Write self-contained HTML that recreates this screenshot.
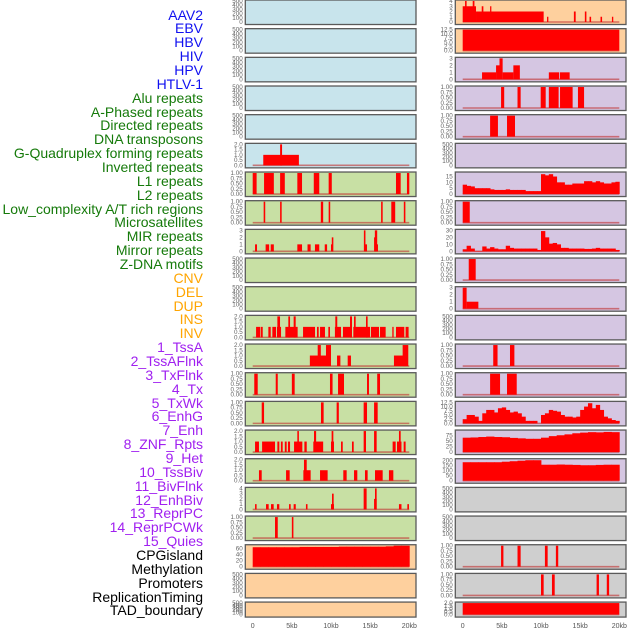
<!DOCTYPE html>
<html><head><meta charset="utf-8">
<style>
html,body{margin:0;padding:0;background:#fff;}
#wrap{position:relative;width:630px;height:630px;overflow:hidden;}
.lab{position:absolute;right:427px;font-family:"Liberation Sans",sans-serif;font-size:14px;line-height:14px;white-space:nowrap;}
svg{position:absolute;left:0;top:0;}
</style></head>
<body>
<div id="wrap">
<div id="labels"></div>
<svg id="chart" width="630" height="630"></svg>
</div>
<script>
// ---------- data ----------
const trackNames = ["AAV2","EBV","HBV","HIV","HPV","HTLV-1","Alu repeats","A-Phased repeats","Directed repeats","DNA transposons","G-Quadruplex forming repeats","Inverted repeats","L1 repeats","L2 repeats","Low_complexity A/T rich regions","Microsatellites","MIR repeats","Mirror repeats","Z-DNA motifs","CNV","DEL","DUP","INS","INV","1_TssA","2_TssAFlnk","3_TxFlnk","4_Tx","5_TxWk","6_EnhG","7_Enh","8_ZNF_Rpts","9_Het","10_TssBiv","11_BivFlnk","12_EnhBiv","13_ReprPC","14_ReprPCWk","15_Quies","CPGisland","Methylation","Promoters","ReplicationTiming","TAD_boundary"];
const trackGroups = [6,13,5,15,5];
const groupColors = ["#1010f0","#157a0a","#ffa500","#a020f0","#000000"];
const xTickValues = [0,5,10,15,20];
const xTickLabels = ["0","5kb","10kb","15kb","20kb"];

const T500=["0","100","200","300","400","500"], T1=["0.00","0.25","0.50","0.75","1.00"], T2=["0.0","0.5","1.0","1.5","2.0"], T3=["0","1","2","3"], T4=["0","1","2","3","4"], T12=["0.0","2.5","5.0","7.5","10.0","12.5"];

// segments: [startKb, endKb, value]
const segL5=[[1.35,5.9,1],[3.5,3.75,2]];
const segL6=[[0,0.5,1],[1.45,2.7,1],[3.5,4.1,1],[5.7,6.3,1],[7.8,8.5,1],[9.7,10.1,1],[18.3,18.9,1],[19.7,20,1]];
const segL7=[[1.4,1.6,1],[3.5,3.7,1],[8.7,9.0,1],[9.7,9.9,1],[16.4,16.6,1],[17.7,18.2,1],[19.3,19.5,1]];
const segL8=[[0.3,0.55,1],[1.65,2.1,1],[2.3,2.7,1],[5.7,6.3,1],[7.0,7.4,1],[7.95,8.5,1],[9.2,9.5,1],[10.0,10.25,1],[10.1,10.3,2],[14.2,14.4,3],[14.35,14.6,1],[15.5,15.75,2],[15.6,15.9,3],[15.8,16.0,1]];
const segL11=[[0.43,0.98,1],[1.06,1.28,1],[2.0,2.3,1],[2.51,2.98,1],[3.1,3.62,1],[3.15,3.49,2],[4.17,5.74,1],[4.55,4.77,2],[5.23,5.49,2],[6.43,7.96,1],[8.21,8.43,1],[8.6,9.23,1],[9.66,9.87,1],[10.5,11.28,1],[10.55,10.8,2],[11.53,12.64,1],[12.43,12.68,2],[12.85,14.98,1],[12.94,13.15,2],[14.47,14.68,2],[15.1,16.13,1],[16.26,16.98,1],[17.83,18.0,1],[18.3,19.36,1],[19.53,19.91,1]];
const segL12=[[7.3,10.0,1],[8.3,8.7,2],[9.36,10.0,2],[10.77,11.2,1],[12.13,12.55,1],[18.04,19.66,1],[19.15,19.87,2]];
const segL13=[[0.2,0.64,1],[2.94,3.2,1],[5.0,5.36,1],[9.87,10.2,1],[10.9,11.66,1],[14.6,14.85,1],[15.9,16.26,1]];
const segL14=[[1.15,1.45,1],[8.72,9.06,1],[10.72,11.0,1],[14.17,14.6,1],[15.5,15.96,1]];
const segL15=[[0.3,0.8,1],[1.2,2.85,1],[3.15,3.4,1],[3.6,3.83,1],[4.1,4.34,1],[4.5,4.77,1],[5.28,6.34,1],[5.7,5.9,2],[6.6,6.9,1],[7.74,9.0,1],[7.83,8.1,2],[10.0,10.38,1],[10.08,10.3,2],[11.28,11.5,1],[12.68,12.9,1],[14.17,14.47,2],[15.5,15.83,2],[17.87,18.26,1],[18.43,19.0,1],[18.68,18.9,2],[19.28,19.53,1]];
const segL16=[[0.8,1.15,1],[4.26,4.72,1],[6.47,7.4,1],[6.55,6.9,2],[8.6,9.57,1],[11.57,12.0,1],[12.94,13.36,1],[14.34,14.68,1],[15.62,16.6,1],[17.4,17.96,1]];
const segL17=[[0.3,0.5,1],[1.7,2.04,1],[2.34,2.68,1],[3.1,3.4,1],[4.64,4.85,1],[5.23,5.5,1],[6.8,7.0,1],[10.0,10.38,1],[10.13,10.34,3],[14.17,14.55,4],[15.5,15.83,2],[15.62,15.83,4],[18.68,19.0,1],[19.75,19.96,1]];
const segL18=[[2.85,3.2,1],[5.0,5.2,1]];
const binsL19=[65,65,65,65,65,65,66,66,66,66,66,67,67,67,67,67,67,68,70,70];

const segR0=[[0,1.7,3],[0.3,0.5,4],[1.28,1.5,4],[1.7,10.3,2],[2.43,2.64,3],[3.5,3.66,3],[10.1,10.34,2],[10.77,10.94,1],[14.2,14.43,2],[15.6,15.8,2],[16.2,16.4,1],[17.6,17.8,1],[19.06,19.23,1]];
const segR1=[[0,20,12.5]];
const segR2=[[2.47,4.26,1],[4.26,4.7,2],[4.7,5.1,3],[5.1,6.47,1],[6.47,7.3,2],[11.0,12.3,1],[12.4,13.66,1]];
const segR3=[[4.9,5.3,1],[7.0,7.4,1],[9.96,10.6,1],[11.0,12.25,1],[12.43,14.04,1],[14.72,15.5,1]];
const segR4=[[3.5,4.5,1],[5.66,6.68,1]];
const binsR6=[8,7,6.5,5,5,5,5,4,3.5,3.5,3.5,4,3.5,3.5,3.5,3.5,2.5,2.5,2.5,2.5,17,16,17,15,10,10,8,8,9,9,9,11,11,10,11,10,9,9,10,10.5];
const segR7=[[0,0.9,1]];
const binsR8=[3,8,4,0.5,0.5,7,4,6,4,3,3,8,5,4,4,4,4,4,4,2,29,20,11,12,10,5,5,4,4,4,4,3.5,3.5,4,5,4,4,4,4,2];
const segR9=[[0.77,1.66,1]];
const segR10=[[0,0.5,3],[0.5,2.0,1]];
const segR12=[[3.9,4.45,1],[6.04,6.6,1]];
const segR13=[[3.5,4.77,1],[5.66,6.9,1]];
const binsR14=[2.5,5,5,4,1.5,6,8,8,6.5,9,9.5,8,6.5,7,6,4,1.5,1.5,1.5,0,5,6,8,7.5,7,5,4,4,3.5,4,8,10,12,9,11,8,4,3,2,1.5];
const binsR15=[65,66,68,70,68,67,64,62,60,60,65,72,76,80,85,88,90,89,91,90];
const binsR16=[185,185,185,185,185,190,195,200,205,205,160,160,162,160,158,155,155,158,160,160];
const segR19=[[4.9,5.2,1],[7.0,7.4,1],[10.5,10.85,1],[11.9,12.2,1]];
const segR20=[[10.0,10.34,1],[11.4,11.75,1],[17.1,17.4,1],[18.4,18.7,1]];
const segR21=[[0,20,2]];

const BLUE="#c8e4ec",GREEN="#c8e0a4",ORANGE="#fed09e",PURPLE="#d5c6e2",GRAY="#cfcfcf";
const leftPanels=[
 {bg:BLUE,t:T500},{bg:BLUE,t:T500},{bg:BLUE,t:T500},{bg:BLUE,t:T500},{bg:BLUE,t:T500},
 {bg:BLUE,t:T2,ym:2,s:segL5},
 {bg:GREEN,t:T1,ym:1,s:segL6},{bg:GREEN,t:T1,ym:1,s:segL7},{bg:GREEN,t:T3,ym:3,s:segL8},
 {bg:GREEN,t:T500},{bg:GREEN,t:T500},
 {bg:GREEN,t:T2,ym:2,s:segL11},{bg:GREEN,t:T2,ym:2,s:segL12},{bg:GREEN,t:T1,ym:1,s:segL13},{bg:GREEN,t:T1,ym:1,s:segL14},
 {bg:GREEN,t:T2,ym:2,s:segL15},{bg:GREEN,t:T2,ym:2,s:segL16},{bg:GREEN,t:T4,ym:4,s:segL17},{bg:GREEN,t:T1,ym:1,s:segL18},
 {bg:ORANGE,t:["0","20","40","60"],tv:[0,20,40,60],ym:70,b:binsL19,bw:1},
 {bg:ORANGE,t:T500},{bg:ORANGE,t:T500}
];
const rightPanels=[
 {bg:ORANGE,t:T4,ym:4,s:segR0},{bg:ORANGE,t:T12,ym:12.5,s:segR1},
 {bg:PURPLE,t:T3,ym:3,s:segR2},{bg:PURPLE,t:T1,ym:1,s:segR3},{bg:PURPLE,t:T1,ym:1,s:segR4},{bg:PURPLE,t:T500},
 {bg:PURPLE,t:["0","5","10","15"],tv:[0,5,10,15],ym:18,b:binsR6,bw:0.5},
 {bg:PURPLE,t:T1,ym:1,s:segR7},
 {bg:PURPLE,t:["0","10","20","30"],tv:[0,10,20,30],ym:30,b:binsR8,bw:0.5},
 {bg:PURPLE,t:T1,ym:1,s:segR9},{bg:PURPLE,t:T3,ym:3,s:segR10},{bg:PURPLE,t:T500},
 {bg:PURPLE,t:T1,ym:1,s:segR12},{bg:PURPLE,t:T1,ym:1,s:segR13},
 {bg:PURPLE,t:T12,ym:12.5,b:binsR14,bw:0.5},
 {bg:PURPLE,t:["0","25","50","75"],tv:[0,25,50,75],ym:95,b:binsR15,bw:1},
 {bg:PURPLE,t:["0","50","100","150","200"],tv:[0,50,100,150,200],ym:210,b:binsR16,bw:1},
 {bg:GRAY,t:T500},{bg:GRAY,t:T500},
 {bg:GRAY,t:T1,ym:1,s:segR19},{bg:GRAY,t:T1,ym:1,s:segR20},{bg:GRAY,t:T2,ym:2,s:segR21}
];

// ---------- drawing ----------
const NS="http://www.w3.org/2000/svg";
const svg=document.getElementById("chart");
const PXKB=7.83;
function xScale(col,kb){return (col?462.7:252.7)+kb*PXKB;}
function rowTop(i){return 28.67*i;}
function rowH(i){return i===21?15:24.5;}
function yScale(v,ym,i){const b=rowTop(i)+rowH(i)-2.5, t=rowTop(i)+1;return b-(v/ym)*(b-t);}
function mk(tag,attrs,parent){const e=document.createElementNS(NS,tag);for(const k in attrs)e.setAttribute(k,attrs[k]);(parent||svg).appendChild(e);return e;}

// labels
const labDiv=document.getElementById("labels");
let gi=0,cnt=0;
trackNames.forEach((n,i)=>{
  while(cnt>=trackGroups[gi]){gi++;cnt=0;}
  cnt++;
  const d=document.createElement("div");
  d.className="lab";
  d.style.top=(15+13.86*i-7.5)+"px";
  d.style.color=groupColors[gi];
  d.textContent=n;
  
  
  labDiv.appendChild(d);
});

function drawPanel(p,i,col){
  const px=col?455.3:245.3, w=170.7, top=rowTop(i), h=rowH(i);
  const g=mk("g",{});
  
  
  const bg=mk("rect",{x:px,y:top,width:w,height:h,fill:p.bg},g);
  
  
  const ym=p.ym||500;
  const n=p.t.length;
  p.t.forEach((lab,k)=>{
    const v=p.tv?p.tv[k]:(ym*k/(n-1));
    const tx=mk("text",{x:px-2.5,y:yScale(v,ym,i)+2,"text-anchor":"end","font-size":"6.3","font-family":"Liberation Sans, sans-serif",fill:"#666"},g);
    tx.textContent=lab;
    
    
  });
  if(p.s||p.b){
    const base=mk("line",{x1:xScale(col,0),x2:xScale(col,20),y1:yScale(0,ym,i),y2:yScale(0,ym,i),stroke:"#c03030","stroke-width":1.6,opacity:0.6},g);
    
    
  }
  if(p.s){
    p.s.forEach(s=>{
      const x1=xScale(col,s[0]),x2=xScale(col,s[1]),y=yScale(s[2],ym,i),y0=yScale(0,ym,i);
      const r=mk("rect",{x:x1,y:y,width:Math.max(1.2,x2-x1),height:y0-y,fill:"#ff0000"},g);
      
      
    });
  }
  if(p.b){
    p.b.forEach((v,k)=>{
      const x1=xScale(col,k*p.bw),x2=xScale(col,(k+1)*p.bw),y=yScale(v,ym,i),y0=yScale(0,ym,i);
      const r=mk("rect",{x:x1,y:y,width:x2-x1+0.4,height:y0-y,fill:"#ff0000"},g);
      
      
    });
  }
  const br=mk("rect",{x:px,y:top,width:w,height:h,fill:"none",stroke:"#5a5a5a","stroke-width":1.3},g);
  
  
}
leftPanels.forEach((p,i)=>drawPanel(p,i,0));
rightPanels.forEach((p,i)=>drawPanel(p,i,1));

[0,1].forEach(col=>{
  xTickValues.forEach((v,k)=>{
    const t=mk("text",{x:xScale(col,v),y:628,"text-anchor":"middle","font-size":"7","font-family":"Liberation Sans, sans-serif",fill:"#555"});
    t.textContent=xTickLabels[k];
    
    
  });
});
</script>
</body></html>
